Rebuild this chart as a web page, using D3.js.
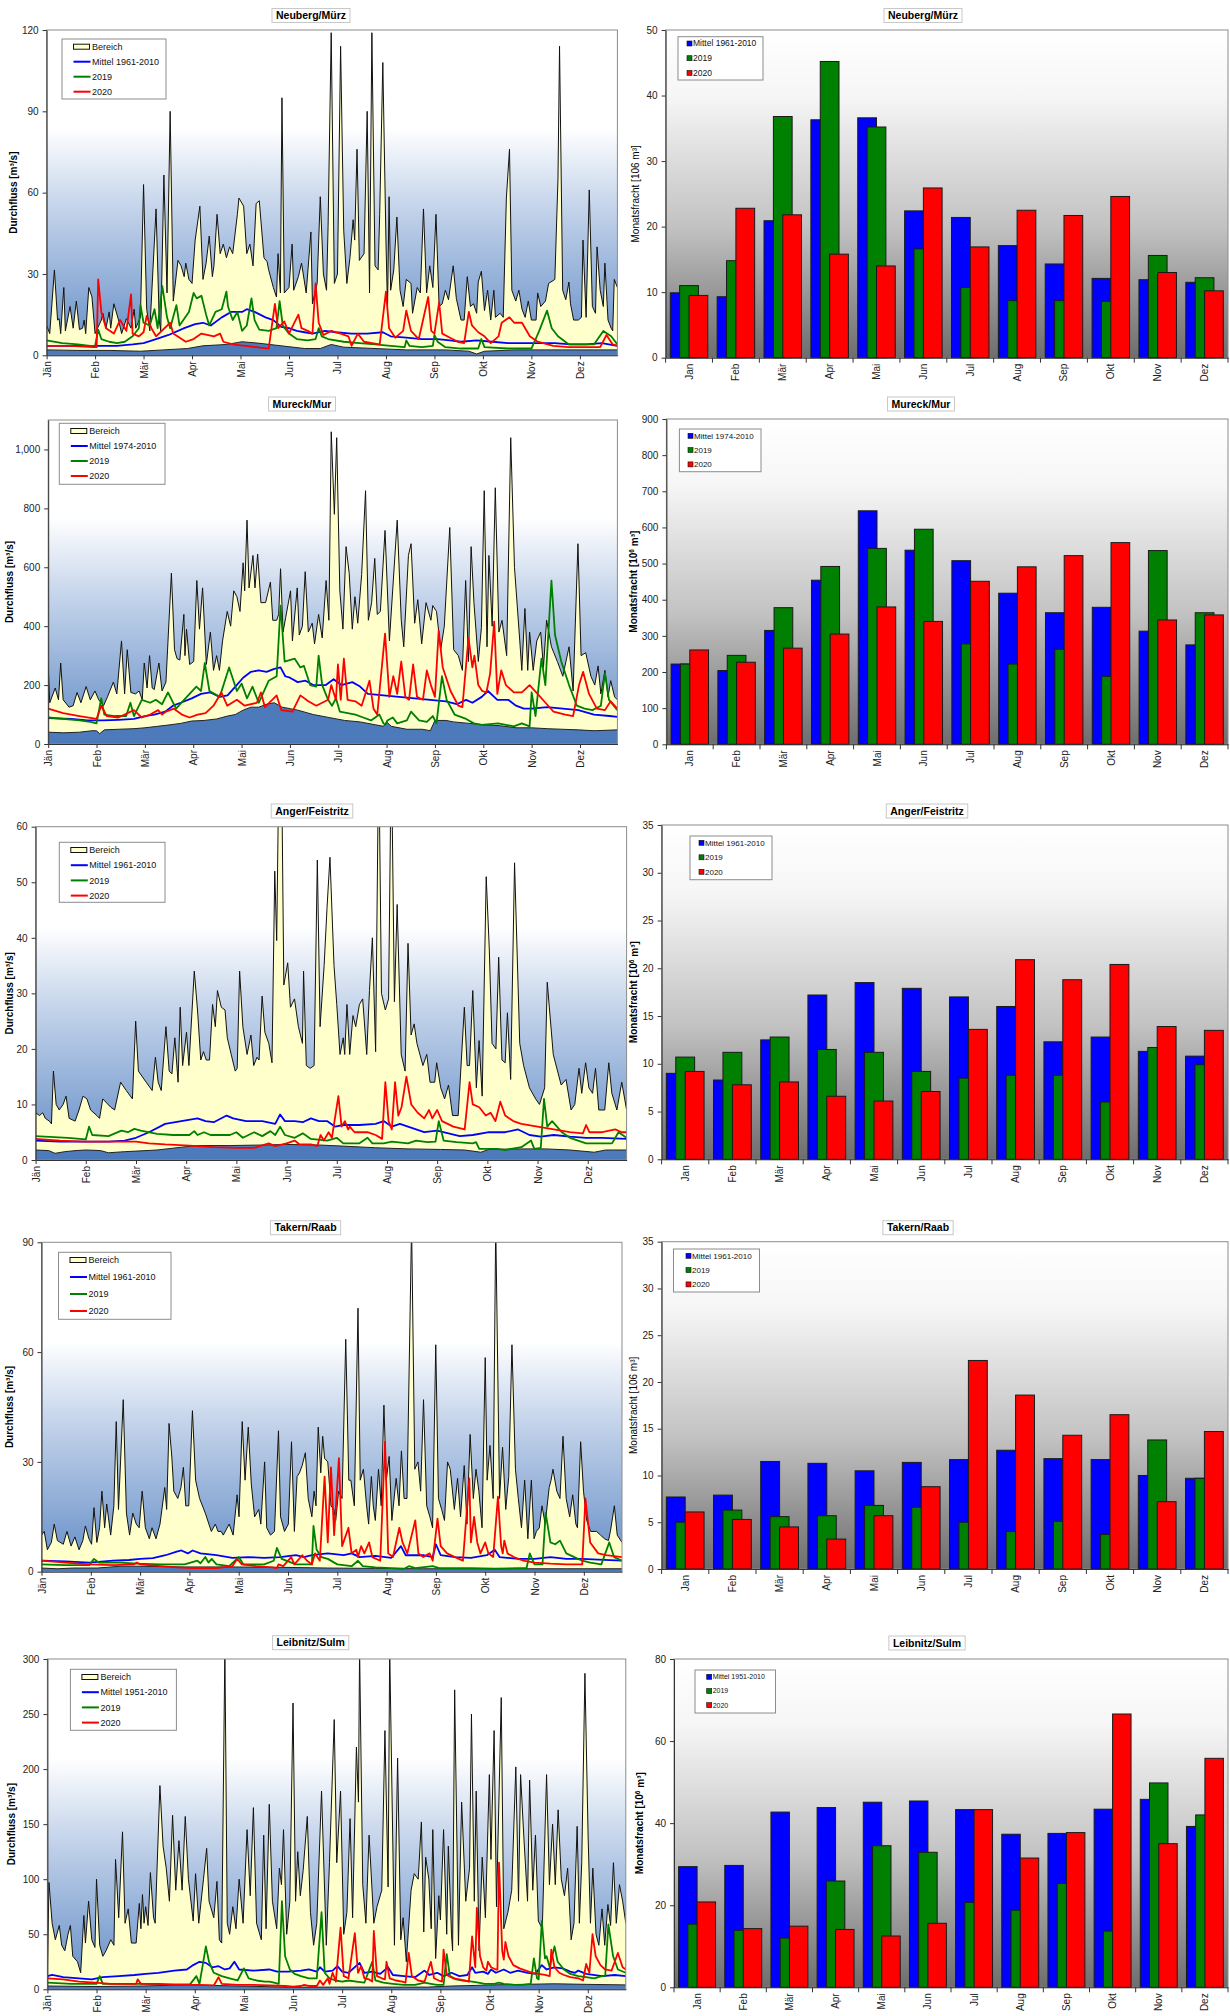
<!DOCTYPE html>
<html>
<head>
<meta charset="utf-8">
<script src="https://cdn.jsdelivr.net/npm/d3@7"></script>
<style>
body { margin: 0; background: #fff; }
svg { display: block; font-family: Arial, "Liberation Sans", sans-serif; }
</style>
</head>
<body>
<script>
// month labels
var monthsDay = ["Jän", "Feb", "Mär", "Apr", "Mai", "Jun", "Jul", "Aug", "Sep", "Okt", "Nov", "Dez"];
var monthsBar = ["Jan", "Feb", "Mär", "Apr", "Mai", "Jun", "Jul", "Aug", "Sep", "Okt", "Nov", "Dez"];

// ---- Neuberg/Mürz, daily flow [day, m³/s] ----
var neubergMax = [[0,11],[2,8],[5,31.5],[7,13],[8,13.5],[9,8],[11,25],[12,9],[15,18],[17,10],[19,20],[21,9.5],[23,10],[24,13],[25,8],[27,25],[29,21.5],[31,8],[35,13],[36,15.5],[38,10],[40,16],[41,10],[43,19],[46,13],[48,8],[51,13.5],[54,10],[56,17],[57,10],[60,14],[62,63],[64,17],[66,9],[70,54],[72,13],[73,9],[75,66.5],[77,23],[79,90],[81,20],[83,30],[84,35],[86,33],[88,29],[89,34],[91,28],[93,26.5],[95,42.5],[98,55],[100,28],[102,34],[104,44],[106,29],[107,33],[109,52],[111,37.5],[113,41],[115,36],[117,40],[119,37.5],[122,52],[123,58],[126,55],[128,37.5],[130,41],[132,33],[134,56],[136,57],[137,50],[139,36],[141,34.5],[142,31.5],[145,25],[147,21.5],[148,37.5],[149.5,23],[150.5,95],[152,23],[155,25],[157,41],[158,24],[161,29],[163,34],[166,23],[169,45.5],[170,19],[173,26.5],[175,58.5],[177,30],[179,24],[180,47.5],[182,119],[184,26.5],[186,30],[188,114],[190,46],[192,26.5],[194,36],[196,50],[197,42.5],[198.5,76],[200,35],[203,37.5],[205,90],[206.5,23],[208,119],[210,33],[212,31.5],[213,52],[215,108],[217,42.5],[218,17],[219,58.5],[220,24],[222,31.5],[224,51],[226,24],[228,18],[230,28],[233,26.5],[234,15.5],[237,25],[239,23],[241,54],[243,23],[245,33],[247,25],[249,52],[251,18],[253,19],[255,24],[257,20.5],[260,33],[262,21],[265,13],[267,13],[269,29],[271,18],[273,19],[275,15.5],[276,27],[278,31],[280,16.5],[282,24],[284,13],[286,24],[287,14],[290,15.5],[292,14],[294,58],[296,76],[297.5,24],[300,20],[302,24],[304,17],[306,14],[308,20],[310,13],[313,13],[314,23],[316,18],[319,20],[321,26.5],[325,28],[327,65],[328,114],[330,24],[332,20.5],[334,27],[335,19],[337,13],[340,13],[342,14],[343,42.5],[345,14],[347,61],[349,18],[351,15.5],[352,40],[354,24],[356,18],[357,34],[359,13],[361,10],[362,9],[363,28],[365,25]];
var neubergMin = [[0,2],[20,1.8],[40,1.8],[60,1.5],[75,2],[90,2.5],[100,3.5],[115,4],[125,5],[135,4.5],[150,3.5],[165,2.5],[175,2.5],[182,4],[190,3],[210,2.5],[230,2],[255,2],[270,1.5],[275,0.5],[280,1.5],[300,2],[330,2],[365,2]];
var neubergMean = [[0,3.5],[15,3.5],[30,3.5],[45,3.5],[55,4],[62,4.5],[70,6],[78,7.5],[88,10],[95,11.5],[100,12],[105,11],[112,14],[118,16],[125,16],[128,17],[133,16],[140,14],[145,13],[150,10.5],[155,10],[160,9],[165,8.5],[170,8],[178,9],[185,8.5],[195,8],[205,8],[215,8.5],[220,7],[230,6.5],[240,6],[250,6],[258,5.5],[265,5],[275,5.5],[285,5],[295,4.5],[305,4.5],[315,4.5],[325,4.5],[335,4],[345,4],[355,4.5],[365,3.5]];
var neuberg2019 = [[0,5.5],[10,4.5],[20,4],[28,3.5],[31,3.5],[33,9.5],[35,6],[40,5],[45,4.5],[50,5],[55,7],[59,10],[60,18.5],[62,12],[66,11],[69,17],[71,10],[74,25.5],[77,14],[79,10],[83,18.5],[85,11],[91,16],[94,23],[96,21],[99,22],[102,15],[104,11],[108,16],[112,17],[115,23.5],[116,18],[119,13],[122,16],[125,9],[128,11],[131,21],[133,13],[136,9.5],[142,9],[147,10],[149,20],[151,11],[155,8],[160,6],[167,5.5],[172,6],[174,10],[176,7],[180,6],[190,5],[200,4.5],[210,4],[220,3.5],[229,3],[230,5.5],[232,3.5],[240,3],[247,3.5],[248,7.5],[250,5],[255,3],[265,2.5],[276,2.5],[278,6],[280,3],[295,2.5],[310,2.5],[312,5],[315,9],[320,16.5],[323,10],[327,7],[334,4],[350,4],[356,9],[361,7],[365,4]];
var neuberg2020 = [[0,3.5],[15,3.5],[30,3],[32,3],[33,28],[35,16],[38,10],[43,8],[47,13],[51,9],[54,22.5],[55,8],[59,7],[62,8.5],[64,14.5],[67,10],[70,7],[79,12],[81,8],[89,5],[94,6],[99,8],[107,7],[111,8],[113,5],[119,4],[127,3.5],[134,3],[142,2.5],[146,19],[148,10],[152,12.5],[155,8],[161,15],[163,10],[167,9],[170,8],[172,26.5],[174,12],[177,7.5],[182,9],[188,8],[193,7],[195,3.5],[199,8],[203,5],[208,4.5],[213,4],[217,23.5],[219,10],[223,6.5],[228,9],[230,16.5],[233,9],[238,6],[244,21.5],[246,9],[248,8],[251,19.5],[253,8],[258,6.5],[263,5],[267,4.5],[270,16],[272,11],[276,8.5],[280,7],[284,4.5],[289,7],[291,12],[296,14],[299,12],[304,12],[309,7],[314,5],[324,3.5],[334,3],[344,3],[354,3],[358,7.5],[362,4],[365,3.5]];
// monthly volume [10^6 m³]
var neubergBarMean = [9.9, 9.3, 20.9, 36.3, 36.6, 22.4, 21.4, 17.1, 14.3, 12.1, 11.9, 11.5];
var neubergBar2019 = [11.0, 14.8, 36.8, 45.2, 35.2, 16.6, 10.7, 8.7, 8.7, 8.6, 15.6, 12.2];
var neubergBar2020 = [9.5, 22.8, 21.8, 15.8, 14.0, 25.9, 16.9, 22.5, 21.7, 24.6, 13.0, 10.2];

// ---- Mureck/Mur ----
var mureckMax = [[0,265],[1,140],[4.5,190],[6.6,150],[8,275],[9.6,150],[13.4,125],[16,130],[18.5,175],[21,140],[24.3,195],[27,150],[30,180],[32.4,150],[35.5,130],[38,160],[41.8,210],[44,170],[47,350],[49,170],[50.7,320],[53,175],[56,170],[58.3,180],[60.3,150],[61.6,275],[63.4,190],[65,300],[66.7,190],[68,185],[71,275],[73,180],[75.5,210],[79,580],[81,320],[82.6,290],[84.4,285],[87,440],[87.7,300],[88.7,390],[90.7,270],[93.3,280],[95.3,555],[97,390],[99,530],[101.4,270],[104,380],[106,250],[108,300],[109.8,250],[111.8,350],[114.8,450],[117,400],[119,520],[121,500],[123,450],[125,615],[126,520],[127.5,760],[128.8,530],[131.3,640],[132.6,530],[134.3,645],[136.4,480],[139.4,480],[142.5,550],[144,420],[146.5,420],[147.8,440],[149,595],[150.6,380],[152.3,430],[155.4,520],[156.6,350],[159.7,530],[161,370],[163,400],[164.8,585],[166.8,380],[169.3,410],[170.8,340],[173.4,440],[175.7,360],[178.2,555],[180,420],[181.5,1060],[183.5,780],[185,1040],[187,520],[189,390],[191,670],[193,580],[195,390],[196.7,500],[198.5,410],[201,575],[203.5,860],[205.3,420],[207.4,480],[209.4,630],[211,440],[213,450],[216,725],[218.8,350],[223.8,760],[226.4,420],[228,330],[231,640],[232.7,680],[235,410],[237,490],[239.5,340],[242.3,480],[245.4,420],[246.6,470],[249,450],[251.7,320],[254,400],[257.5,735],[260,320],[263,300],[265.6,250],[267.7,555],[269.5,280],[271.2,670],[273,480],[275.8,280],[277.8,395],[279.6,860],[281.4,330],[282.6,640],[284.7,400],[286.7,870],[289,380],[291,420],[294,300],[296.6,1040],[299,600],[302.4,350],[303.7,250],[305.7,460],[307.5,250],[308.7,380],[311,250],[313.3,350],[315.8,380],[317.6,260],[319.6,420],[322.7,330],[326.5,280],[330,230],[334,330],[336.6,180],[339.7,680],[341.7,300],[344.7,310],[348,230],[350.5,200],[352.6,265],[354.4,170],[357,250],[359,160],[360.7,215],[363.2,160],[365,150]];
var mureckMin = [[0,40],[10,38],[20,40],[28,45],[31,45],[33,35],[36,48],[45,50],[55,52],[62,55],[70,60],[78,65],[85,70],[92,78],[100,80],[108,85],[115,95],[120,100],[125,115],[130,125],[135,125],[140,135],[145,140],[150,125],[155,120],[160,115],[170,100],[180,90],[190,80],[200,75],[210,65],[215,60],[217,75],[220,60],[230,50],[240,50],[245,45],[248,80],[255,80],[260,75],[270,70],[280,65],[290,62],[300,55],[310,55],[320,52],[330,50],[340,48],[350,45],[365,48]];
var mureckMean = [[0,88],[15,85],[25,80],[35,80],[45,82],[55,85],[62,95],[68,100],[75,110],[80,130],[85,140],[92,155],[98,170],[104,175],[110,160],[115,165],[120,195],[125,225],[130,245],[135,250],[140,245],[145,255],[149,260],[152,230],[155,225],[160,210],[165,215],[170,200],[178,200],[183,220],[188,200],[195,210],[200,195],[205,170],[215,165],[225,160],[235,155],[245,150],[255,145],[262,135],[268,150],[272,140],[278,160],[282,180],[288,150],[295,150],[300,130],[305,120],[310,120],[320,125],[330,120],[340,115],[350,100],[360,95],[365,92]];
var mureck2019 = [[0,90],[20,80],[27,75],[31,70],[34,155],[36,100],[42.6,95],[50,95],[52.7,140],[55,95],[60,150],[65.4,140],[69,150],[73,135],[76.8,175],[82,120],[88,155],[95,195],[98,180],[100.4,275],[103.4,180],[110,160],[116,260],[121,180],[124,205],[127.5,155],[131,195],[135,140],[141.4,215],[146.5,230],[149,470],[151.6,280],[158,290],[161.7,260],[164,265],[168,200],[171.9,195],[173.4,300],[175.7,200],[179.5,150],[182,130],[184.5,155],[187,110],[197,100],[202,90],[207,80],[212.4,100],[215,70],[216.2,65],[217.5,80],[221,90],[223.8,70],[230,80],[232.7,110],[237.8,80],[242.8,75],[246.6,95],[249,70],[252.5,230],[255.5,150],[260.6,100],[268,85],[273,70],[278,65],[288.5,70],[298.6,60],[303.7,70],[308.7,60],[310,175],[312.5,95],[316.3,290],[318.8,200],[322.7,555],[325,370],[329,280],[334,200],[339,130],[344,120],[349,115],[354.4,130],[357,240],[359.6,150],[365,115]];
var mureck2020 = [[0,120],[9.6,105],[20,95],[31,85],[34,130],[37.5,95],[45,90],[55,115],[60,90],[65.4,100],[70.5,115],[73,100],[75.5,110],[80.6,120],[85.7,100],[90.7,90],[95.8,100],[100.9,105],[106,130],[111,175],[114.8,130],[121,150],[126,130],[133.8,140],[136.4,175],[139,125],[146.5,165],[149.5,115],[156.6,110],[161.7,165],[166.8,145],[171.9,130],[179.5,150],[181.5,200],[184.5,150],[185.8,270],[187.6,150],[189.6,290],[192,150],[197,145],[201,130],[206,215],[208.6,120],[211,100],[216,375],[218.8,160],[221.3,230],[223.8,170],[226.4,280],[229,160],[231.4,150],[234,270],[236.5,160],[240.3,150],[242.8,250],[245.4,200],[248,160],[250.4,385],[253,260],[258,180],[263,130],[265.6,125],[269.5,360],[272,260],[273.3,300],[275.8,200],[278.3,180],[281,175],[283.4,240],[286,415],[288,170],[290.5,250],[293.5,200],[298.6,175],[303.7,175],[308.7,200],[313.8,170],[318.9,140],[324,110],[331.6,100],[336.6,95],[340.4,200],[343,245],[346.8,170],[351.8,120],[357,115],[360.7,145],[365,120]];
var mureckBarMean = [222, 204, 315, 454, 646, 537, 508, 418, 364, 379, 313, 275];
var mureckBar2019 = [222, 246, 378, 492, 542, 595, 278, 222, 263, 188, 536, 364];
var mureckBar2020 = [261, 227, 266, 305, 380, 340, 451, 491, 522, 558, 344, 358];

// ---- Anger/Feistritz ----
var angerMax = [[0,8.5],[2.4,8],[4.4,8.5],[6,7.5],[8.5,7],[9.8,6.5],[11,16],[12.7,10],[14.6,9],[17,10],[18.8,11.5],[20.7,7.5],[24.4,7],[26.8,9],[29.3,11.5],[31.7,11],[34,9],[37.8,8],[39.5,7.5],[41.5,11],[46.4,9.5],[48.8,9],[52.5,14],[56,12.5],[59.8,11],[61.8,25],[63.5,16],[68.3,14],[72,12.5],[74,18.5],[75.7,14],[77.6,12.5],[80.5,24],[82.5,16],[84.2,15.5],[86,22],[88,14],[89.3,27.5],[90.8,17],[93.2,23],[94.7,17],[98,34],[100,27],[102,18],[103.7,19.5],[105.4,18],[107.4,18],[109.3,28],[111,24],[112.3,30.5],[114.7,27.5],[117,27],[118.4,22],[120.8,19],[123.3,16],[124.5,16.5],[126,34],[128,24],[130.6,19],[133,22.5],[134.7,17],[136.7,18.5],[138,18],[139.9,29.5],[141.6,23],[144,21],[146,17.5],[147.7,52],[148.9,39.5],[150.4,75],[151.8,75],[153.3,31.5],[155.7,35.5],[157.4,27.5],[159.9,29],[162.3,24],[164.8,21],[165.5,34],[167.2,17],[169.6,16.5],[172,17],[174,54],[175.7,24],[178.2,35],[180,45.5],[181.8,54.5],[184.3,35],[186,28],[188,19],[190,22],[190.9,19],[192.3,28],[194,19],[196,26],[197.7,24],[200,28],[202,29],[204.5,19],[206.2,30.5],[208,40],[210,19.5],[211.9,75],[213.6,30],[216,27],[218,29],[219.7,75],[221.6,28.5],[223.3,46],[225.8,19],[228.2,16],[230,39],[231.9,22.5],[233.8,24.5],[235.5,21],[239.2,17],[241.6,19],[243.6,14],[246.5,14],[247.7,17.5],[250.2,13],[252.6,11],[255,13.5],[257.5,8],[261,8],[264.8,27.5],[266.5,17],[268,17],[270,30.5],[272.2,13],[273.9,21.5],[275.8,11.5],[278.3,51],[280.2,38],[281.9,21],[284.3,20],[286,36.5],[288,18],[290,17.5],[291.4,26.5],[293.4,14.5],[295.8,53.5],[299,21],[301.4,17],[305,13],[308.8,11],[311.2,10],[314.4,13],[316,32],[319.7,19],[324.6,13.5],[327.6,14.5],[330.7,9],[333,10],[335.6,16.5],[337.3,12],[339.7,17.5],[341.7,13],[344,12],[345.8,16.5],[347.8,9],[351.5,9],[354,17.5],[355.9,12],[359,9],[362,14],[365,9]];
var angerMin = [[0,1.8],[8,1.7],[12,1.2],[18,1.5],[25,1.7],[31,1.8],[40,1.7],[45,1.3],[55,1.5],[62,1.6],[75,1.8],[90,2.3],[100,2.6],[120,2.6],[140,2.7],[155,2.8],[175,2.7],[190,2.5],[210,2.2],[230,2.0],[250,1.9],[265,1.8],[275,1.4],[280,1.9],[300,2.0],[315,2.0],[330,1.8],[345,1.4],[352,1.8],[365,1.8]];
var angerMean = [[0,3.5],[15,3.3],[31,3.3],[45,3.3],[55,3.5],[62,4],[70,5],[80,6.5],[90,7],[100,7.5],[105,7],[110,6.8],[118,8],[122,7.5],[130,7],[140,7],[148,6.5],[151,8.2],[154,7],[160,7],[165,6.8],[170,7.5],[175,7],[180,7],[185,6],[190,6.3],[200,6.3],[210,6.5],[215,7],[220,6],[225,6.5],[230,6],[240,5],[248,5.3],[255,4.8],[262,4.3],[270,4.5],[280,5],[290,5],[298,5.5],[305,4.5],[312,4.2],[320,4.5],[330,4.2],[340,4],[350,4],[365,3.8]];
var anger2019 = [[0,4.3],[20,4],[31,3.7],[33,6],[35,4.5],[45,4.3],[53,5.3],[57,5],[61,5.6],[65,5.3],[75,4.7],[85,4.5],[95,4.5],[98,5.2],[100,4.5],[104,5],[108,4.5],[120,4.5],[124,5],[128,4],[135,5],[140,4.3],[145,5.2],[148,4.5],[151,6],[154,4.5],[160,4],[165,4.8],[170,3.8],[180,3.5],[186,4],[190,3],[200,3],[205,4],[208,3],[215,3],[220,3.3],[230,3],[235,3.5],[242,3.2],[247,3.3],[249,7],[252,3.5],[260,3.2],[270,3],[272,3.2],[274,2],[285,2],[290,1.8],[300,2.3],[306,3.5],[308,2],[312,2.2],[314,11],[316,6],[319,7],[322,6],[325,5],[330,4],[335,3.5],[340,3],[350,3],[356,3],[360,5],[365,4]];
var anger2020 = [[0,3.8],[15,3.5],[31,3.3],[50,3.3],[62,3.3],[70,3],[80,2.8],[95,2.6],[110,2.3],[125,2.2],[135,2.2],[144,3],[148,2.5],[155,3],[160,3.5],[163,2.8],[170,2.8],[174,2.5],[176,4.5],[178,3.5],[181,5],[183,4],[187,11.5],[189,6],[191,7],[193,5.5],[194,6],[197,5],[205,5],[210,4.5],[214,3.8],[216,14],[218,7],[220,5.5],[222,14],[224,8],[226,9.5],[229,15],[232,10],[236,8.5],[240,7.5],[243,9],[245,7.5],[248,9],[251,7],[258,6],[265,5.5],[268,14],[270,10],[274,9.5],[278,8],[281,8.5],[284,7],[287,10.5],[290,8],[295,7],[300,6.5],[310,6],[320,5.5],[330,5],[338,4.8],[340,6.3],[342,5],[350,5],[358,5.5],[362,5],[365,5]];
var angerBarMean = [9.0, 8.3, 12.5, 17.2, 18.5, 17.9, 17.0, 16.0, 12.3, 12.8, 11.3, 10.8];
var angerBar2019 = [10.7, 11.2, 12.8, 11.5, 11.2, 9.2, 8.5, 8.8, 8.8, 6.0, 11.7, 9.9];
var angerBar2020 = [9.2, 7.8, 8.1, 6.6, 6.1, 7.1, 13.6, 20.9, 18.8, 20.4, 13.9, 13.5];

// ---- Takern/Raab ----
var takernMax = [[0,10],[1.7,11],[3.7,6],[6.2,8],[8,13],[10,8.5],[13.7,7.5],[16,11],[18.6,7],[21,9.5],[23.6,6],[26,8.5],[27.6,12.5],[29.8,9],[31.5,7.5],[33,17.5],[34.8,8],[36.5,12],[38,22],[39.7,12],[41,18.5],[43.5,10],[45.5,18],[47,41],[48.4,17],[51.4,47],[53.4,16],[55.4,10],[57.4,16],[59.6,13],[61.4,12],[63.3,22],[65.3,12],[67.8,9],[69.5,12],[72,9],[74.5,13],[77.5,23],[78.7,17],[80.2,40.5],[82,31],[83.2,22],[85.7,20],[87.7,23],[89.2,28.5],[90.7,18],[92.6,18],[94.9,44],[96.9,25],[99.4,20],[103,16],[106.8,11],[109.3,13],[111,11],[113,11],[114.3,10],[118,13],[120.5,10],[123,21],[124.2,15],[126.2,41],[128,25],[130,39.5],[131.9,24],[134,15],[136.6,17],[137.9,13],[140.3,30],[141.6,12],[144,10],[146.5,11],[149,38.5],[150.3,15],[152.8,11],[155.2,13],[157.2,35.5],[159,11],[160.7,26],[162.2,27],[163.9,29],[165.9,32.5],[167.7,20],[170,15],[171.4,22],[172.6,18],[174,39.5],[175.6,27],[176.8,37],[178,31],[180,30],[182,18],[183.8,17],[185,14],[186.8,22],[189,20],[191.3,63.5],[193.2,25],[194.5,25],[196.7,18],[199,72],[200.4,25],[202.4,28],[204.4,18],[205.7,13],[207.4,26],[208.6,18],[209.9,14],[211.9,28],[213.6,18],[215.3,45.5],[216.8,25],[218.6,31.5],[220.3,14],[223,25.5],[224.8,18],[226.3,33],[228,20],[229.8,20],[232.7,95],[234.7,28],[236.7,30],[238.4,22],[240.2,47],[242.2,18],[244.2,15],[245.9,12],[247.9,62],[249.6,20],[251.6,17],[253.4,14],[255.3,30],[257,28],[259.6,17],[261.6,25.5],[263.5,15],[265.8,29],[267.5,13],[269.5,37.5],[271.5,20],[273.2,28],[275,22],[277,12],[279,58.5],[280.2,25],[282,34.5],[284,20],[285.6,95],[288,20],[289.9,34],[291.9,17],[293.8,26],[295.8,62],[298,28],[299.8,20],[301.8,12],[303.8,25],[305.8,9],[308,25],[309.7,9],[311.2,11],[313,12],[314.7,18],[316.7,13],[319.2,23],[320.4,25],[321.6,28],[324,22],[326,20],[327.9,37],[329.9,20],[332.1,15],[334,21],[336,13],[337,12],[339,35.5],[340.8,22],[342.8,14],[345.3,11],[349,11],[351.5,10],[354,9],[356.5,8.5],[357.7,11],[360.2,18],[362,10],[365,8]];
var takernMin = [[0,1],[10,0.8],[20,1],[35,1],[50,1.5],[60,1.5],[90,1.3],[120,1.3],[150,1.2],[180,1],[210,0.9],[240,0.8],[270,0.8],[300,0.8],[330,0.8],[365,0.8]];
var takernMean = [[0,3],[15,2.8],[30,2.5],[45,3],[55,3.2],[62,3.5],[70,3.7],[78,4.5],[85,5.5],[88,5.8],[92,5],[95,5.8],[100,5],[110,4.5],[120,3.8],[130,4],[140,3.8],[150,4],[160,4.5],[165,4],[170,4.5],[180,5],[190,4.5],[195,5],[200,4],[210,4.3],[220,3.8],[226,7],[229,4.5],[240,4.5],[246,4],[248,7.5],[251,4.5],[260,4],[270,3.8],[280,4.5],[285,6],[288,4],[300,3.5],[310,3.5],[320,4],[330,3.5],[340,3.5],[350,3.3],[365,3]];
var takern2019 = [[0,2],[15,1.8],[30,1.8],[33,3.5],[36,2.5],[50,2.5],[60,2.2],[75,2],[90,2],[98,3],[100,2.3],[103,4],[105,2.5],[107,3.5],[110,2],[118,1.5],[124,4],[127,2],[140,2],[146,3],[148,6.5],[151,3.5],[160,2],[170,2],[171,12.5],[173,6],[176,4],[180,3.5],[186,2],[195,1.5],[199,3],[202,1.5],[210,1.2],[220,1],[228,0.8],[231,1.5],[235,1],[246,1.5],[250,1],[270,1],[285,0.8],[300,1],[305,1],[307,5],[310,2],[315,2],[317,16],[320,8],[323,7.5],[326,8.5],[330,5],[335,4],[340,3],[345,2.5],[352,2],[357,8],[360,4],[365,3]];
var takern2020 = [[0,3],[15,2.5],[30,2],[45,1.8],[58,2],[60,2.5],[62,2],[75,1.5],[85,1.2],[95,1],[110,1],[120,1.5],[123,3.5],[126,2],[135,1.5],[145,1.2],[148,1],[149,2],[152,1.5],[157,4],[159,2],[164,4.5],[167,3],[170,2],[172,5],[175,3],[178,26],[180,8],[182,28.5],[184,10],[187,31],[189,7],[193,12],[195,5],[198,6],[199,4],[201,7],[203,5],[206,8],[208,4],[213,3],[216,35.5],[218,5],[221,4],[225,12],[227,8],[230,5],[235,14],[237,5],[240,4],[244,5],[246,3],[249,14.5],[251,7],[255,5],[260,4],[265,3],[269,25.5],[270,8],[272,15],[274,8],[276,5],[279,8],[281,5],[284,4],[287,20.5],[289,7],[290,5],[291,8.5],[293,5],[297,4],[303,3],[310,2.5],[320,2.2],[330,2],[340,2],[342,20],[345,8],[350,5],[355,4.5],[365,4]];
var takernBarMean = [7.7, 7.9, 11.5, 11.3, 10.5, 11.4, 11.7, 12.7, 11.8, 11.7, 10.0, 9.7];
var takernBar2019 = [5.0, 6.3, 5.6, 5.7, 6.8, 6.6, 5.0, 4.0, 5.1, 3.7, 13.8, 9.7];
var takernBar2020 = [6.1, 5.3, 4.5, 3.2, 5.7, 8.8, 22.3, 18.6, 14.3, 16.5, 7.2, 14.7];

// ---- Leibnitz/Sulm ----
var leibnitzMax = [[0,15],[1,97],[3,60],[5,45],[7.5,58],[9,40],[11,35],[13,50],[14.5,58],[16,30],[19,25],[21,15],[23,67],[24,42],[26,80],[28,45],[30,38],[31,100],[33,40],[35,30],[37,35],[40,45],[42,40],[43,118],[45,65],[47.4,143],[49,60],[51,73],[53,42],[56,42],[58,78],[59,55],[60,86],[61,60],[62,75],[63.5,58],[65,106],[67,65],[68,60],[71,185],[73,130],[75,110],[77,80],[79,158],[81,90],[83,135],[85,90],[87,157],[89,100],[92,62],[93.5,105],[95.5,60],[98.5,100],[100.5,128],[102,80],[105,65],[107,98],[108.5,45],[110,42],[112,310],[113.5,60],[115,50],[117,75],[119,55],[121,100],[123.5,60],[126,145],[128,85],[130,165],[132,60],[135,45],[136.5,140],[138,55],[140,168],[142,80],[144.7,55],[146.4,110],[147.7,95],[149,145],[151,50],[153,80],[155,260],[156.6,80],[158,125],[159.6,85],[161.4,108],[164,157],[166,70],[168,40],[170,60],[173,180],[176,40],[178,115],[181,245],[182.6,115],[185,180],[187,50],[189,70],[191,155],[192.6,65],[195,220],[196.3,170],[197,310],[199,95],[201,60],[203,140],[206,60],[208,75],[211,90],[213,235],[215,93],[216,310],[219,40],[221,210],[223,45],[224.5,65],[226.5,25],[229.5,90],[231.5,105],[234,100],[236,152],[237.5,52],[238.7,120],[240.7,100],[242.2,55],[243.2,145],[245,28],[247,85],[248,63],[250,145],[252,50],[253,130],[255,50],[255.7,35],[257,272],[259.4,40],[261.4,170],[264,80],[266.4,110],[267.6,250],[269.4,80],[270.6,180],[272.4,35],[274.4,120],[276.4,65],[278.9,195],[279.9,118],[281.9,235],[283.4,75],[286.4,265],[288,55],[290.6,70],[293,90],[295.6,202],[297.3,80],[298.6,195],[300.6,140],[303,80],[304.3,190],[306.3,90],[308,140],[309.8,62],[312.3,55],[315,195],[316.8,95],[318.8,150],[320.5,95],[322.3,163],[324.3,100],[326.3,85],[328.3,110],[330.5,45],[332.3,60],[334.3,148],[335.7,60],[337.2,115],[339.2,287],[341.2,140],[342.7,60],[344.2,110],[346.2,50],[348,40],[350,73],[351.7,40],[353.7,77],[355.4,58],[357.2,115],[359,60],[361,95],[363,80],[365,60]];
var leibnitzMin = [[0,3],[30,2.5],[60,3],[90,4],[120,3],[150,2],[180,2],[210,2],[240,2],[255,3],[270,3.5],[280,4],[300,4.5],[320,5],[340,4.5],[365,4]];
var leibnitzMean = [[0,12],[3,13],[10,11],[20,10],[28,9],[35,11],[45,12],[55,13],[62,14],[70,15],[80,17],[88,18],[92,22],[96,25],[100,24],[104,20],[108,21],[112,18],[115,19],[118,25],[121,18],[130,17],[140,18],[145,16],[152,16],[160,17],[165,18],[170,16],[172,20],[175,16],[180,17],[183,21],[186,16],[190,15],[197,24],[200,15],[205,16],[210,14],[215,20],[218,13],[225,12],[232,11],[238,17],[241,13],[246,15],[250,12],[255,15],[260,12],[265,13],[268,20],[270,15],[275,16],[278,14],[280,18],[283,15],[288,18],[292,15],[297,17],[303,15],[308,14],[312,22],[315,18],[320,20],[325,19],[330,16],[333,15],[335,17],[340,14],[350,12],[358,13],[365,12]];
var leibnitz2019 = [[0,6],[15,5],[31,5],[33,12],[35,5],[50,5],[62,5],[75,4.5],[90,4.5],[94,12],[96,5],[100,39],[102,25],[105,15],[110,12],[115,10],[120,8],[124,19],[127,10],[132,8],[137,7],[140,7],[143,6],[146,5],[148,80],[150,30],[153,18],[156,14],[160,12],[165,10],[170,10],[173,70],[175,15],[178,10],[182,8],[186,7],[190,8],[195,7],[200,6],[205,25],[207,8],[212,6],[218,5],[225,4],[232,4],[238,6],[242,5],[246,4],[250,4],[252,32],[254,12],[258,9],[262,8],[268,7],[272,6],[276,5],[282,5],[285,6],[288,5],[295,4],[300,4],[305,5],[307,28],[309,10],[310,9],[312,62],[314,28],[315,30],[317,20],[320,39],[322,25],[326,18],[330,14],[335,12],[340,11],[345,10],[350,12],[352,12],[354,59],[357,30],[360,18],[365,15]];
var leibnitz2020 = [[0,10],[10,9],[20,7],[30,6],[40,5],[50,5],[56,5],[57,9],[59,5],[70,5],[80,4],[95,4],[105,3.5],[108,11],[110,5],[120,4],[130,4],[140,3.5],[150,3],[155,2.5],[160,3],[162,4],[165,3],[170,3],[172,8],[174,4],[177,10],[178,5],[180,15],[182,7],[185,56],[187,12],[190,10],[194,51],[196,15],[198,21],[200,10],[203,9],[205,7],[206,53],[208,12],[211,10],[213,9],[214,25],[216,10],[220,8],[224,7],[226,6],[228,33],[230,12],[234,8],[238,7],[242,25],[244,10],[247,8],[249,7],[250,36],[252,13],[256,10],[260,9],[263,8],[266,7],[268,48],[270,20],[271,74],[273,30],[275,20],[277,17],[278,25],[280,20],[283,18],[284,18],[285,115],[287,35],[288,27],[289,43],[291,30],[294,22],[298,19],[302,17],[306,15],[310,14],[314,13],[317,12],[318,36],[320,20],[323,15],[326,13],[330,11],[335,10],[338,8],[340,23],[342,15],[344,50],[346,30],[349,22],[352,18],[356,17],[360,33],[363,20],[365,18]];
var leibnitzBarMean = [29.4, 29.7, 42.7, 43.8, 45.1, 45.4, 43.3, 37.3, 37.5, 43.4, 45.8, 39.2];
var leibnitzBar2019 = [15.4, 13.9, 12.0, 25.9, 34.5, 32.9, 20.7, 18.8, 25.3, 13.7, 49.8, 42.0];
var leibnitzBar2020 = [20.8, 14.3, 14.9, 14.1, 12.5, 15.6, 43.3, 31.5, 37.7, 66.6, 35.0, 55.8];

// ---- layout ----
var flowPanels = [
    {id: "neu", title: "Neuberg/Mürz", meanLabel: "Mittel 1961-2010", max: neubergMax, min: neubergMin, mean: neubergMean, s2019: neuberg2019, s2020: neuberg2020,
        x0: 46.6, x1: 617.4, y0: 30, y1: 355.3, yMax: 120, yStep: 30, titleX: 311, titleY: 15.5, ylabX: 13, legend: [62, 39, 104, 60, 15]},
    {id: "mur", title: "Mureck/Mur", meanLabel: "Mittel 1974-2010", max: mureckMax, min: mureckMin, mean: mureckMean, s2019: mureck2019, s2020: mureck2020,
        x0: 48.2, x1: 617.4, y0: 420, y1: 744, yMax: 1100, yStep: 200, titleX: 302, titleY: 404, ylabX: 9, legend: [59.3, 423.3, 105.7, 61, 15]},
    {id: "ang", title: "Anger/Feistritz", meanLabel: "Mittel 1961-2010", max: angerMax, min: angerMin, mean: angerMean, s2019: anger2019, s2020: anger2020,
        x0: 35.6, x1: 626.6, y0: 826.7, y1: 1160, yMax: 60, yStep: 10, titleX: 312, titleY: 811, ylabX: 9, legend: [59.3, 842.3, 105.7, 60, 15.2]},
    {id: "tak", title: "Takern/Raab", meanLabel: "Mittel 1961-2010", max: takernMax, min: takernMin, mean: takernMean, s2019: takern2019, s2020: takern2020,
        x0: 41.5, x1: 622, y0: 1242.3, y1: 1571.7, yMax: 90, yStep: 30, titleX: 305.5, titleY: 1227.7, ylabX: 9, legend: [58.5, 1252.3, 112.5, 67, 17]},
    {id: "lei", title: "Leibnitz/Sulm", meanLabel: "Mittel 1951-2010", max: leibnitzMax, min: leibnitzMin, mean: leibnitzMean, s2019: leibnitz2019, s2020: leibnitz2020,
        x0: 47.4, x1: 625.8, y0: 1659, y1: 1989.3, yMax: 300, yStep: 50, titleX: 310.7, titleY: 1642.7, ylabX: 11, legend: [70.4, 1669.3, 106, 61, 15.2]}
];

// ylab: [text before exponent, exponent or null, text after]
var barPanels = [
    {title: "Neuberg/Mürz", meanLabel: "Mittel 1961-2010", mean: neubergBarMean, s2019: neubergBar2019, s2020: neubergBar2020, ylab: ["Monatsfracht [106 m³]", null, ""], bold: false,
        x0: 665.6, x1: 1228, y0: 30, y1: 357.7, yMax: 50, yStep: 10, titleX: 923, titleY: 15.5, ylabX: 635, legend: [678, 36.7, 85, 43.3, 14.7, 11], legFont: 8.5},
    {title: "Mureck/Mur", meanLabel: "Mittel 1974-2010", mean: mureckBarMean, s2019: mureckBar2019, s2020: mureckBar2020, ylab: ["Monatsfracht [10", "6", " m³]"], bold: true,
        x0: 666.4, x1: 1228, y0: 419, y1: 744.3, yMax: 900, yStep: 100, titleX: 921, titleY: 404, ylabX: 633, legend: [679.4, 429, 81.6, 42.7, 14.3, 10.6], legFont: 8},
    {title: "Anger/Feistritz", meanLabel: "Mittel 1961-2010", mean: angerBarMean, s2019: angerBar2019, s2020: angerBar2020, ylab: ["Monatsfracht [10", "6", " m³]"], bold: true,
        x0: 661.6, x1: 1228, y0: 825, y1: 1159.3, yMax: 35, yStep: 5, titleX: 927, titleY: 811, ylabX: 633, legend: [690, 836, 82, 43.7, 14.5, 11], legFont: 8},
    {title: "Takern/Raab", meanLabel: "Mittel 1961-2010", mean: takernBarMean, s2019: takernBar2019, s2020: takernBar2020, ylab: ["Monatsfracht [106 m³]", null, ""], bold: false,
        x0: 661.6, x1: 1228, y0: 1241.7, y1: 1569, yMax: 35, yStep: 5, titleX: 918, titleY: 1227.7, ylabX: 633, legend: [673.5, 1249, 86, 43, 14.3, 14.5], legFont: 8},
    {title: "Leibnitz/Sulm", meanLabel: "Mittel 1951-2010", mean: leibnitzBarMean, s2019: leibnitzBar2019, s2020: leibnitzBar2020, ylab: ["Monatsfracht [10", "6", " m³]"], bold: true,
        x0: 674, x1: 1228, y0: 1659, y1: 1987.3, yMax: 80, yStep: 20, titleX: 927, titleY: 1643, ylabX: 639, legend: [695, 1670, 80.5, 43, 14.2, 13.7], legFont: 7}
];

var cMean = "#0000ff", c2019 = "#008000", c2020 = "#ff0000";

var svg = d3.select("body").append("svg")
    .attr("width", 1230)
    .attr("height", 2016);

var defs = svg.append("defs");

var gBlue = defs.append("linearGradient").attr("id", "gradBlue")
    .attr("x1", 0).attr("y1", 0).attr("x2", 0).attr("y2", 1);
gBlue.append("stop").attr("offset", 0).attr("stop-color", "#ffffff");
gBlue.append("stop").attr("offset", 0.3).attr("stop-color", "#ffffff");
gBlue.append("stop").attr("offset", 0.55).attr("stop-color", "#c3d3ea");
gBlue.append("stop").attr("offset", 1).attr("stop-color", "#628cc6");

var gGray = defs.append("linearGradient").attr("id", "gradGray")
    .attr("x1", 0).attr("y1", 0).attr("x2", 0).attr("y2", 1);
gGray.append("stop").attr("offset", 0).attr("stop-color", "#ffffff");
gGray.append("stop").attr("offset", 0.2).attr("stop-color", "#f6f6f6");
gGray.append("stop").attr("offset", 0.6).attr("stop-color", "#c2c2c2");
gGray.append("stop").attr("offset", 1).attr("stop-color", "#6e6e6e");

function drawTitle(g, text, cx, cy) {
    var t = g.append("text")
        .attr("x", cx).attr("y", cy).attr("dy", "0.35em")
        .attr("text-anchor", "middle")
        .style("font-size", "10.5px").style("font-weight", "bold")
        .text(text);
    var w = t.node().getComputedTextLength();
    g.insert("rect", "text")
        .attr("x", cx - w / 2 - 4).attr("y", cy - 7)
        .attr("width", w + 8).attr("height", 14)
        .attr("fill", "#fff").attr("stroke", "#c8c8c8");
}

function styleAxis(a) {
    a.select(".domain").attr("stroke", "#333");
    a.selectAll(".tick line").attr("stroke", "#333");
    a.selectAll("text").style("font-size", "10px").attr("fill", "#222");
}

function drawFlow(p) {
    var g = svg.append("g");
    var x = d3.scaleLinear().domain([0, 365]).range([p.x0, p.x1]);
    var y = d3.scaleLinear().domain([0, p.yMax]).range([p.y1, p.y0]);

    defs.append("clipPath").attr("id", "clip-" + p.id)
        .append("rect")
        .attr("x", p.x0).attr("y", p.y0)
        .attr("width", p.x1 - p.x0).attr("height", p.y1 - p.y0);

    g.append("rect")
        .attr("x", p.x0).attr("y", p.y0)
        .attr("width", p.x1 - p.x0).attr("height", p.y1 - p.y0)
        .attr("fill", "url(#gradBlue)");

    var plot = g.append("g").attr("clip-path", "url(#clip-" + p.id + ")");

    var area = d3.area()
        .x(function (d) { return x(d[0]); })
        .y0(y(0))
        .y1(function (d) { return y(d[1]); });
    var line = d3.line()
        .x(function (d) { return x(d[0]); })
        .y(function (d) { return y(d[1]); });

    // Bereich: yellow up to max, blue below min
    plot.append("path").datum(p.max).attr("d", area).attr("fill", "#ffffcc");
    plot.append("path").datum(p.max).attr("d", line)
        .attr("fill", "none").attr("stroke", "#111").attr("stroke-width", 1);
    plot.append("path").datum(p.min).attr("d", area).attr("fill", "#4d7aba");
    plot.append("path").datum(p.min).attr("d", line)
        .attr("fill", "none").attr("stroke", "#222").attr("stroke-width", 1);

    [[p.mean, cMean], [p.s2019, c2019], [p.s2020, c2020]].forEach(function (s) {
        plot.append("path").datum(s[0]).attr("d", line)
            .attr("fill", "none").attr("stroke", s[1])
            .attr("stroke-width", 1.8).attr("stroke-linejoin", "round");
    });

    g.append("rect")
        .attr("x", p.x0).attr("y", p.y0)
        .attr("width", p.x1 - p.x0).attr("height", p.y1 - p.y0)
        .attr("fill", "none").attr("stroke", "#8c8c8c");

    var ya = g.append("g")
        .attr("transform", "translate(" + p.x0 + ",0)")
        .call(d3.axisLeft(y).tickValues(d3.range(0, p.yMax + 1, p.yStep)).tickSize(4).tickSizeOuter(0).tickPadding(4));
    styleAxis(ya);

    var xa = g.append("g")
        .attr("transform", "translate(0," + p.y1 + ")")
        .call(d3.axisBottom(x).tickValues(d3.range(12).map(function (i) { return i * 31; }))
            .tickFormat(function (d, i) { return monthsDay[i]; })
            .tickSize(4).tickSizeOuter(0));
    styleAxis(xa);
    xa.selectAll("text")
        .attr("transform", "rotate(-90)")
        .attr("text-anchor", "end")
        .attr("x", -6).attr("y", 0).attr("dy", "0.35em");

    g.append("text")
        .attr("transform", "translate(" + p.ylabX + "," + ((p.y0 + p.y1) / 2) + ") rotate(-90)")
        .attr("text-anchor", "middle").attr("dy", "0.35em")
        .style("font-size", "10px").style("font-weight", "bold")
        .text("Durchfluss [m³/s]");

    drawTitle(g.append("g"), p.title, p.titleX, p.titleY);

    // legend
    var L = p.legend;
    var lg = g.append("g");
    lg.append("rect").attr("x", L[0]).attr("y", L[1]).attr("width", L[2]).attr("height", L[3])
        .attr("fill", "#fff").attr("stroke", "#8c8c8c");
    var items = [["Bereich", null], [p.meanLabel, cMean], ["2019", c2019], ["2020", c2020]];
    items.forEach(function (it, i) {
        var cy = L[1] + 7.7 + i * L[4];
        var sx = L[0] + 11.5;
        if (it[1] === null) {
            lg.append("rect").attr("x", sx).attr("y", cy - 2.5).attr("width", 16).attr("height", 5)
                .attr("fill", "#ffffcc").attr("stroke", "#111");
        } else {
            lg.append("line").attr("x1", sx).attr("x2", sx + 17).attr("y1", cy).attr("y2", cy)
                .attr("stroke", it[1]).attr("stroke-width", 2);
        }
        lg.append("text").attr("x", sx + 18.5).attr("y", cy).attr("dy", "0.35em")
            .style("font-size", "9px").attr("fill", "#111").text(it[0]);
    });
}

function drawBars(p) {
    var g = svg.append("g");
    var x = d3.scaleBand().domain(monthsBar).range([p.x0, p.x1]).paddingInner(0).paddingOuter(0);
    var y = d3.scaleLinear().domain([0, p.yMax]).range([p.y1, p.y0]);

    g.append("rect")
        .attr("x", p.x0).attr("y", p.y0)
        .attr("width", p.x1 - p.x0).attr("height", p.y1 - p.y0)
        .attr("fill", "url(#gradGray)").attr("stroke", "#8c8c8c");

    var bw = x.bandwidth() * 0.4;
    var pad = x.bandwidth() * 0.1;
    [[p.mean, cMean], [p.s2019, c2019], [p.s2020, c2020]].forEach(function (s, k) {
        g.append("g").selectAll("rect")
            .data(s[0])
            .enter().append("rect")
            .attr("x", function (d, i) { return x(monthsBar[i]) + pad + k * bw / 2; })
            .attr("y", function (d) { return y(d); })
            .attr("width", bw)
            .attr("height", function (d) { return y(0) - y(d); })
            .attr("fill", s[1])
            .attr("stroke", "#1a1a1a").attr("stroke-width", 1);
    });

    var ya = g.append("g")
        .attr("transform", "translate(" + p.x0 + ",0)")
        .call(d3.axisLeft(y).tickValues(d3.range(0, p.yMax + 1, p.yStep)).tickSize(4).tickSizeOuter(0).tickPadding(4));
    styleAxis(ya);

    var xa = g.append("g")
        .attr("transform", "translate(0," + p.y1 + ")")
        .call(d3.axisBottom(x).tickSize(0).tickSizeOuter(0));
    styleAxis(xa);
    xa.selectAll("text")
        .attr("transform", "rotate(-90)")
        .attr("text-anchor", "end")
        .attr("x", -6).attr("y", 0).attr("dy", "0.35em");

    // category boundary ticks
    g.append("g").selectAll("line")
        .data(monthsBar.map(function (m) { return x(m); }).concat([p.x1]))
        .enter().append("line")
        .attr("x1", function (d) { return d; }).attr("x2", function (d) { return d; })
        .attr("y1", p.y1).attr("y2", p.y1 + 5)
        .attr("stroke", "#333");

    var yl = g.append("text")
        .attr("transform", "translate(" + p.ylabX + "," + ((p.y0 + p.y1) / 2) + ") rotate(-90)")
        .attr("text-anchor", "middle").attr("dy", "0.35em")
        .style("font-size", "10px").style("font-weight", p.bold ? "bold" : "normal");
    yl.append("tspan").text(p.ylab[0]);
    if (p.ylab[1] !== null) {
        yl.append("tspan").attr("dy", "-0.4em").style("font-size", "6.5px").text(p.ylab[1]);
        yl.append("tspan").attr("dy", "0.4em").text(p.ylab[2]);
    }

    drawTitle(g.append("g"), p.title, p.titleX, p.titleY);

    var L = p.legend;
    var lg = g.append("g");
    lg.append("rect").attr("x", L[0]).attr("y", L[1]).attr("width", L[2]).attr("height", L[3])
        .attr("fill", "#fff").attr("stroke", "#8c8c8c");
    [[p.meanLabel, cMean], ["2019", c2019], ["2020", c2020]].forEach(function (it, i) {
        var cy = L[1] + 6.8 + i * L[4];
        lg.append("rect").attr("x", L[0] + L[5] - 2).attr("y", cy - 2.5).attr("width", 5).attr("height", 5)
            .attr("fill", it[1]).attr("stroke", "#111").attr("stroke-width", 0.6);
        lg.append("text").attr("x", L[0] + L[5] + 4).attr("y", cy).attr("dy", "0.35em")
            .style("font-size", p.legFont + "px").attr("fill", "#111").text(it[0]);
    });
}

flowPanels.forEach(drawFlow);
barPanels.forEach(drawBars);
</script>
</body>
</html>
